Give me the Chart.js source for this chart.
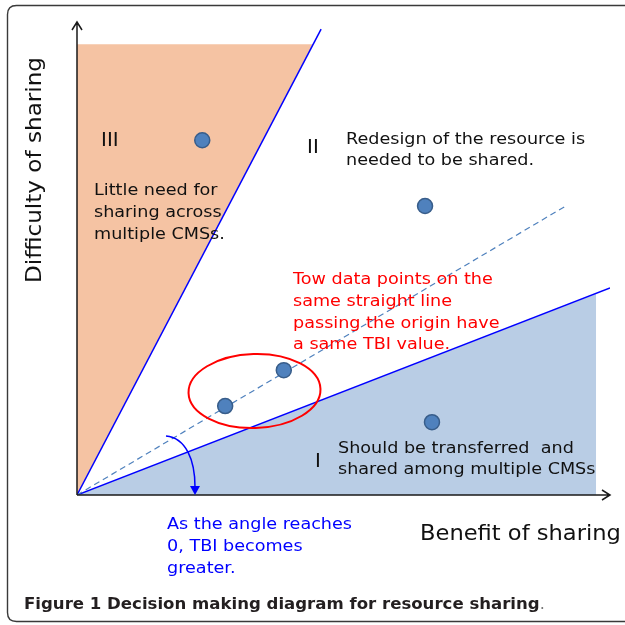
<!DOCTYPE html>
<html>
<head>
<meta charset="utf-8">
<script src="https://cdn.jsdelivr.net/npm/chart.js@4.4.1/dist/chart.umd.min.js"></script>
<style>
  html, body { margin: 0; padding: 0; background: #ffffff; }
  #wrap { width: 625px; height: 625px; position: relative; }
</style>
</head>
<body>
<div id="wrap"><canvas id="c"></canvas></div>
<script>
// ---- Data (axis units: 0..100 on both axes) ----
const resourcePoints = [
  { x: 23.5, y: 75.0 },   // region III
  { x: 65.3, y: 61.1 },   // region II
  { x: 38.8, y: 26.4 },   // on dashed line (circled)
  { x: 27.8, y: 18.8 },   // on dashed line (circled)
  { x: 66.6, y: 15.4 }    // region I
];
const steepBoundary = [ { x: 0, y: 0 }, { x: 45.8, y: 98.5 } ];
const shallowBoundary = [ { x: 0, y: 0 }, { x: 100, y: 43.8 } ];
const regionIIIFill = [ { x: 0, y: 0 }, { x: 44.3, y: 95.3 } ];
const regionIIIFillTop = 95.3;
const regionIFill = [ { x: 0, y: 0 }, { x: 97.4, y: 42.5 } ];
const sameTBILine = [ { x: 0, y: 0 }, { x: 91.7, y: 61.1 } ];
const axisMax = { x: 100, y: 100 };

const xAxisTitle = "Benefit of sharing";
const yAxisTitle = "Difficulty of sharing";
const regionLabels = ["III", "II", "I"];
const captionBold = "Figure 1 Decision making diagram for resource sharing";

const FONT = '"DejaVu Sans", "Liberation Sans", sans-serif';

function wideText(ctx, str, x, y, sx) {
  ctx.save();
  ctx.translate(x, y);
  ctx.scale(sx, 1);
  ctx.fillText(str, 0, 0);
  ctx.restore();
}

const decorPlugin = {
  id: 'decor',
  beforeDraw(chart) {
    const ctx = chart.ctx;
    ctx.save();
    ctx.fillStyle = '#ffffff';
    ctx.fillRect(0, 0, chart.width, chart.height);
    // rounded frame
    ctx.strokeStyle = '#3a3a3a';
    ctx.lineWidth = 1.4;
    const x0 = 7.5, y0 = 5.5, x1 = 640, y1 = 621.5, r = 9;
    ctx.beginPath();
    ctx.moveTo(x0 + r, y0);
    ctx.lineTo(x1 - r, y0);
    ctx.quadraticCurveTo(x1, y0, x1, y0 + r);
    ctx.lineTo(x1, y1 - r);
    ctx.quadraticCurveTo(x1, y1, x1 - r, y1);
    ctx.lineTo(x0 + r, y1);
    ctx.quadraticCurveTo(x0, y1, x0, y1 - r);
    ctx.lineTo(x0, y0 + r);
    ctx.quadraticCurveTo(x0, y0, x0 + r, y0);
    ctx.stroke();
    ctx.restore();
  },
  afterDatasetsDraw(chart) {
    const ctx = chart.ctx;
    const xs = chart.scales.x, ys = chart.scales.y;
    const ox = xs.getPixelForValue(0), oy = ys.getPixelForValue(0);
    const xe = xs.getPixelForValue(axisMax.x), ye = ys.getPixelForValue(axisMax.y);
    ctx.save();
    // axes with open arrowheads
    ctx.strokeStyle = '#1a1a1a';
    ctx.lineWidth = 1.5;
    ctx.beginPath();
    ctx.moveTo(ox, oy); ctx.lineTo(xe, oy);
    ctx.moveTo(xe - 8, oy - 5); ctx.lineTo(xe, oy); ctx.lineTo(xe - 8, oy + 5);
    ctx.moveTo(ox, oy); ctx.lineTo(ox, ye);
    ctx.moveTo(ox - 5, ye + 8); ctx.lineTo(ox, ye); ctx.lineTo(ox + 5, ye + 8);
    ctx.stroke();

    // red ellipse around the two points on the same line
    ctx.strokeStyle = '#ff0000';
    ctx.lineWidth = 2;
    ctx.beginPath();
    ctx.ellipse(254.5, 391, 66, 37, -0.03, 0, Math.PI * 2);
    ctx.stroke();

    // angle arrow
    ctx.strokeStyle = '#0000ff';
    ctx.fillStyle = '#0000ff';
    ctx.lineWidth = 1.5;
    ctx.beginPath();
    ctx.moveTo(166, 436);
    ctx.bezierCurveTo(186, 438, 195, 460, 195, 487);
    ctx.stroke();
    ctx.beginPath();
    ctx.moveTo(190, 486); ctx.lineTo(200, 486); ctx.lineTo(195, 495); ctx.closePath();
    ctx.fill();

    // texts
    const SX = 1.1;
    ctx.textBaseline = 'middle';
    ctx.textAlign = 'left';
    ctx.fillStyle = '#111111';
    ctx.font = '19px ' + FONT;
    wideText(ctx, regionLabels[0], 101, 141, 1.05);
    wideText(ctx, regionLabels[1], 307, 148, 1.05);
    wideText(ctx, regionLabels[2], 315, 462, 1.05);

    ctx.font = '16px ' + FONT;
    wideText(ctx, 'Redesign of the resource is', 346, 140, SX);
    wideText(ctx, 'needed to be shared.', 346, 161, SX);
    wideText(ctx, 'Little need for', 94, 191, SX);
    wideText(ctx, 'sharing across', 94, 213, SX);
    wideText(ctx, 'multiple CMSs.', 94, 235, SX);
    wideText(ctx, 'Should be transferred  and', 338, 449, SX);
    wideText(ctx, 'shared among multiple CMSs', 338, 470, SX);

    ctx.fillStyle = '#ff0000';
    wideText(ctx, 'Tow data points on the', 293, 280, SX);
    wideText(ctx, 'same straight line', 293, 302, SX);
    wideText(ctx, 'passing the origin have', 293, 324, SX);
    wideText(ctx, 'a same TBI value.', 293, 345, SX);

    ctx.fillStyle = '#0000ff';
    wideText(ctx, 'As the angle reaches', 167, 525, SX);
    wideText(ctx, '0, TBI becomes', 167, 547, SX);
    wideText(ctx, 'greater.', 167, 569, SX);

    ctx.fillStyle = '#111111';
    ctx.font = '21px ' + FONT;
    wideText(ctx, xAxisTitle, 420, 535, 1.075);
    ctx.save();
    ctx.translate(36, 170);
    ctx.rotate(-Math.PI / 2);
    ctx.scale(1.1, 1);
    ctx.textAlign = 'center';
    ctx.fillText(yAxisTitle, 0, 0);
    ctx.restore();

    ctx.fillStyle = '#231f20';
    ctx.font = 'bold 16px ' + FONT;
    const w = ctx.measureText(captionBold).width * 1.035;
    wideText(ctx, captionBold, 24, 605, 1.035);
    ctx.font = '16px ' + FONT;
    ctx.fillStyle = '#777777';
    ctx.fillText('.', 24 + w, 605);
    ctx.restore();
  }
};

new Chart(document.getElementById('c'), {
  type: 'scatter',
  data: {
    datasets: [
      {
        label: 'Resources',
        data: resourcePoints,
        backgroundColor: '#4f81bd',
        borderColor: '#385d8a',
        borderWidth: 1.5,
        pointRadius: 7.5,
        showLine: false,
        order: 0
      },
      {
        label: 'Same TBI line',
        data: sameTBILine,
        showLine: true,
        borderColor: '#4f81bd',
        borderWidth: 1.2,
        borderDash: [6, 4],
        pointRadius: 0,
        fill: false,
        order: 2
      },
      {
        label: 'Steep boundary',
        data: steepBoundary,
        showLine: true,
        borderColor: '#0000ff',
        borderWidth: 1.5,
        pointRadius: 0,
        fill: false,
        order: 3
      },
      {
        label: 'Shallow boundary',
        data: shallowBoundary,
        showLine: true,
        borderColor: '#0000ff',
        borderWidth: 1.5,
        pointRadius: 0,
        fill: false,
        order: 3
      },
      {
        label: 'Region III',
        data: regionIIIFill,
        showLine: true,
        borderWidth: 0,
        borderColor: 'rgba(0,0,0,0)',
        backgroundColor: '#f5c3a3',
        pointRadius: 0,
        fill: { value: regionIIIFillTop },
        order: 5
      },
      {
        label: 'Region I',
        data: regionIFill,
        showLine: true,
        borderWidth: 0,
        borderColor: 'rgba(0,0,0,0)',
        backgroundColor: '#b9cde5',
        pointRadius: 0,
        fill: 'origin',
        order: 5
      }
    ]
  },
  options: {
    responsive: true,
    maintainAspectRatio: false,
    animation: false,
    layout: { padding: { left: 77, right: 15, top: 22, bottom: 130 } },
    plugins: {
      legend: { display: false },
      tooltip: { enabled: false },
      filler: { propagate: false }
    },
    scales: {
      x: { type: 'linear', min: 0, max: axisMax.x, display: false },
      y: { type: 'linear', min: 0, max: axisMax.y, display: false }
    }
  },
  plugins: [decorPlugin]
});
</script>
</body>
</html>
